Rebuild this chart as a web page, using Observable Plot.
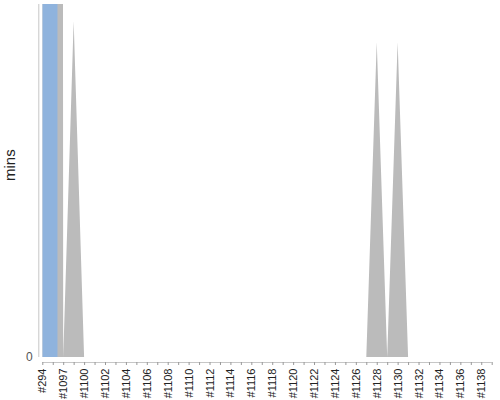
<!DOCTYPE html>
<html>
<head>
<meta charset="utf-8">
<script src="https://cdn.jsdelivr.net/npm/d3@7"></script>
<script src="https://cdn.jsdelivr.net/npm/@observablehq/plot@0.6"></script>
<style>
  body { margin: 0; background: #fff; }
  #chart svg { display: block; }
</style>
</head>
<body>
<div id="chart"></div>
<script>
// x categories (every other one is labelled on the axis)
const categories = [
  "#294", "#1096", "#1097", "#1099", "#1100", "#1101", "#1102", "#1103", "#1104", "#1105",
  "#1106", "#1107", "#1108", "#1109", "#1110", "#1111", "#1112", "#1113", "#1114", "#1115",
  "#1116", "#1117", "#1118", "#1119", "#1120", "#1121", "#1122", "#1123", "#1124", "#1125",
  "#1126", "#1127", "#1128", "#1129", "#1130", "#1131", "#1132", "#1133", "#1134", "#1135",
  "#1136", "#1137", "#1138", "#1139"
];

// gray area series (mins); first two values run far off the top of the chart
const grayValues = [
  5000, 5000, 0, 95.2, 0, 0, 0, 0, 0, 0,
  0, 0, 0, 0, 0, 0, 0, 0, 0, 0,
  0, 0, 0, 0, 0, 0, 0, 0, 0, 0,
  0, 0, 89.2, 0, 89.2, 0, 0, 0, 0, 0,
  0, 0, 0, 0
];

// blue column series (mins), off the top of the chart
const blueCategories = ["#294"];
const blueValues = [5000];

const yTicks = [0];

const index = new Map(categories.map((c, i) => [c, i]));
const grayData = categories.map((c, i) => ({i, v: grayValues[i]}));
const blueData = blueCategories.map((c, k) => ({i: index.get(c), v: blueValues[k]}));
const BAR_SPAN = 1.45;

const chart = Plot.plot({
  width: 500,
  height: 400,
  marginLeft: 42.3,
  marginRight: 8.3,
  marginTop: 4,
  marginBottom: 43,
  style: {fontFamily: "'Liberation Sans', Arial, sans-serif", background: "#fff"},
  x: {type: "linear", domain: [0, categories.length - 1]},
  y: {domain: [0, 100]},
  marks: [
    Plot.areaY(grayData, {x: "i", y: "v", fill: "#bbbbbb", clip: true}),
    Plot.rectY(blueData, {x1: "i", x2: d => d.i + BAR_SPAN, y: "v", fill: "#8fb3dd", clip: true}),
    Plot.ruleX([0], {dx: -4, stroke: "#c6c6c6"}),
    Plot.ruleY([0], {dy: 5, stroke: "#c6c6c6"}),
    Plot.axisX({ticks: d3.range(categories.length), tickSize: 3, dy: 5, tickFormat: () => "", stroke: "#999", label: null}),
    Plot.axisX({
      ticks: d3.range(0, categories.length, 2),
      tickSize: 0,
      tickPadding: 11,
      tickRotate: -90,
      tickFormat: i => categories[i],
      fontSize: 11,
      fill: "#222",
      label: null
    }),
    Plot.axisY({ticks: yTicks, tickSize: 0, tickPadding: 10, fontSize: 12, fill: "#555", label: null}),
    Plot.text(["mins"], {frameAnchor: "left", rotate: -90, dx: -33, fontSize: 15, fill: "#222"})
  ]
});
document.getElementById("chart").append(chart);
</script>
</body>
</html>
